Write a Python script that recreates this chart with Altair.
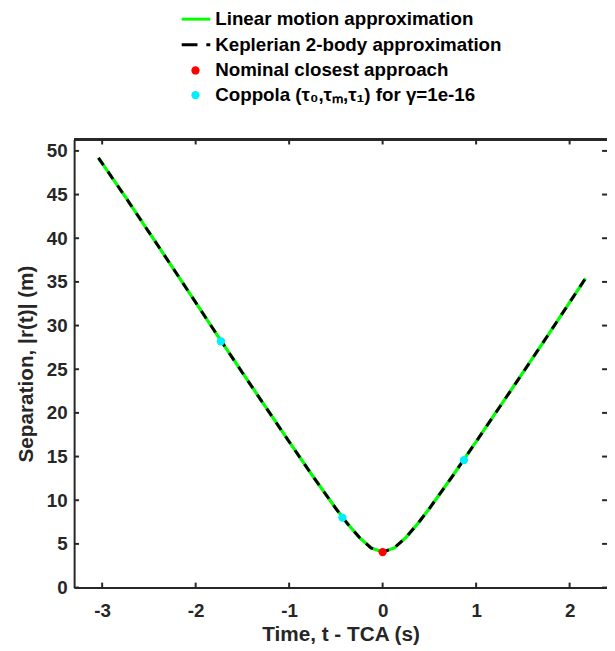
import altair as alt
import pandas as pd

# ---- data ----
t_vals = [-3.04, -2.75, -2.5, -2.25, -2.0, -1.75, -1.5, -1.25, -1.0, -0.75, -0.5,
          -0.375, -0.25, -0.125, 0.0, 0.125, 0.25, 0.375, 0.5, 0.75, 1.0, 1.25,
          1.5, 1.75, 2.0, 2.17]
linear_r = [49.2, 44.7, 40.7, 36.7, 32.65, 28.6, 24.6, 20.65, 16.7, 12.8, 9.05,
            7.3, 5.75, 4.54, 4.06, 4.54, 5.75, 7.3, 9.05, 12.8, 16.7, 20.65,
            24.6, 28.6, 32.65, 35.4]
kepler_r = [49.2, 44.7, 40.7, 36.7, 32.65, 28.6, 24.6, 20.65, 16.7, 12.8, 9.05,
            7.3, 5.75, 4.54, 4.06, 4.54, 5.75, 7.3, 9.05, 12.8, 16.7, 20.65,
            24.6, 28.6, 32.65, 35.4]
nominal_t = [0.0]
nominal_r = [4.06]
coppola_t = [-1.73, -0.43, 0.87]
coppola_r = [28.2, 8.0, 14.6]

x_ticks = [-3, -2, -1, 0, 1, 2]
y_ticks = [0, 5, 10, 15, 20, 25, 30, 35, 40, 45, 50]

legend_labels = [
    "Linear motion approximation",
    "Keplerian 2-body approximation",
    "Nominal closest approach",
    "Coppola (\u03c4\u2080,\u03c4\u2098,\u03c4\u2081) for \u03b3=1e-16",
]

# ---- styling ----
W, H = 540, 454
AX = "#262626"
FONT = "Liberation Sans"
GREEN, BLACK, RED, CYAN = "#00FF00", "#000000", "#FF0000", "#00EEFF"

xscale = alt.Scale(domain=[-3.3, 2.4], nice=False, zero=False)
yscale = alt.Scale(domain=[0, 51.3], nice=False, zero=True)

xaxis = alt.Axis(values=x_ticks, ticks=False, grid=False, title="Time, t - TCA (s)",
                 domainColor=AX, domainWidth=2, labelColor=AX, labelFont=FONT,
                 labelFontSize=19, labelFontWeight="bold", labelPadding=14,
                 titleFont=FONT, titleFontSize=21, titleFontWeight="bold",
                 titleColor=AX, titleY=54, titleBaseline="alphabetic",
                 labelExpr="'' + datum.value")
yaxis = alt.Axis(values=y_ticks, ticks=False, grid=False, title="Separation, |r(t)| (m)",
                 domainColor=AX, domainWidth=2, labelColor=AX, labelFont=FONT,
                 labelFontSize=19, labelFontWeight="bold", labelPadding=7,
                 titleFont=FONT, titleFontSize=21, titleFontWeight="bold",
                 titleColor=AX, titleX=-42, titleBaseline="alphabetic",
                 labelExpr="'' + datum.value")

def X(f="t"):
    return alt.X(f"{f}:Q", scale=xscale, axis=xaxis)

def Y(f="r"):
    return alt.Y(f"{f}:Q", scale=yscale, axis=yaxis)

lin_df = pd.DataFrame({"t": t_vals, "r": linear_r})
kep_df = pd.DataFrame({"t": t_vals, "r": kepler_r})
nom_df = pd.DataFrame({"t": nominal_t, "r": nominal_r})
cop_df = pd.DataFrame({"t": coppola_t, "r": coppola_r})
xt_df = pd.DataFrame({"t": x_ticks})
yt_df = pd.DataFrame({"r": y_ticks})

lin = alt.Chart(lin_df).mark_line(color=GREEN, strokeWidth=3.2).encode(x=X(), y=Y())
kep = alt.Chart(kep_df).mark_line(color=BLACK, strokeWidth=3, strokeDash=[9, 8]).encode(x=X(), y=Y())
nom = alt.Chart(nom_df).mark_circle(color=RED, size=70, opacity=1).encode(x=X(), y=Y())
cop = alt.Chart(cop_df).mark_circle(color=CYAN, size=70, opacity=1).encode(x=X(), y=Y())

tick_left = alt.Chart(yt_df).mark_rule(color=AX, strokeWidth=2).encode(
    y=Y(), x=alt.value(0), x2=alt.value(5))
tick_right = alt.Chart(yt_df).mark_rule(color=AX, strokeWidth=2).encode(
    y=Y(), x=alt.value(W - 5), x2=alt.value(W))
tick_bottom = alt.Chart(xt_df).mark_rule(color=AX, strokeWidth=2).encode(
    x=X(), y=alt.value(H), y2=alt.value(H - 5))
tick_top = alt.Chart(xt_df).mark_rule(color=AX, strokeWidth=2).encode(
    x=X(), y=alt.value(0), y2=alt.value(5))
top_border = alt.Chart(xt_df).mark_rule(color=AX, strokeWidth=2).encode(
    x=alt.value(0), x2=alt.value(W), y=alt.value(0))

# ---- manual legend above the axes ----
leg_df = pd.DataFrame({"label": legend_labels})
TX = 143
rows = [-122, -96, -70, -45]
SYM0, SYM1, SYMC = 109, 138, 123

legend_layers = []
for i, lab in enumerate(legend_labels):
    legend_layers.append(
        alt.Chart(leg_df).transform_filter(alt.datum.label == lab).mark_text(
            align="left", baseline="middle", font=FONT, fontSize=19, fontWeight="bold",
            color="#000000", x=TX, y=rows[i]).encode(text="label:N"))
leg_lin = alt.Chart(leg_df).transform_filter(alt.datum.label == legend_labels[0]).mark_rule(
    color=GREEN, strokeWidth=3).encode(x=alt.value(SYM0), x2=alt.value(SYM1), y=alt.value(rows[0]))
leg_kep = alt.Chart(leg_df).transform_filter(alt.datum.label == legend_labels[1]).mark_rule(
    color=BLACK, strokeWidth=3, strokeDash=[16, 9]).encode(
    x=alt.value(SYM0), x2=alt.value(SYM1), y=alt.value(rows[1]))
leg_nom = alt.Chart(leg_df).transform_filter(alt.datum.label == legend_labels[2]).mark_circle(
    color=RED, size=70, opacity=1).encode(x=alt.value(SYMC), y=alt.value(rows[2]))
leg_cop = alt.Chart(leg_df).transform_filter(alt.datum.label == legend_labels[3]).mark_circle(
    color=CYAN, size=70, opacity=1).encode(x=alt.value(SYMC), y=alt.value(rows[3]))

chart = alt.layer(
    lin, kep, nom, cop, tick_left, tick_right, tick_bottom, tick_top, top_border,
    leg_lin, leg_kep, leg_nom, leg_cop, *legend_layers
).properties(
    width=W, height=H,
    autosize=alt.AutoSizeParams(type="none"),
    padding={"left": 67, "top": 129, "right": 0, "bottom": 60},
).configure_view(stroke=None).configure(background="white")

chart.save("out.html", embed_options={"renderer": "svg", "actions": False})
